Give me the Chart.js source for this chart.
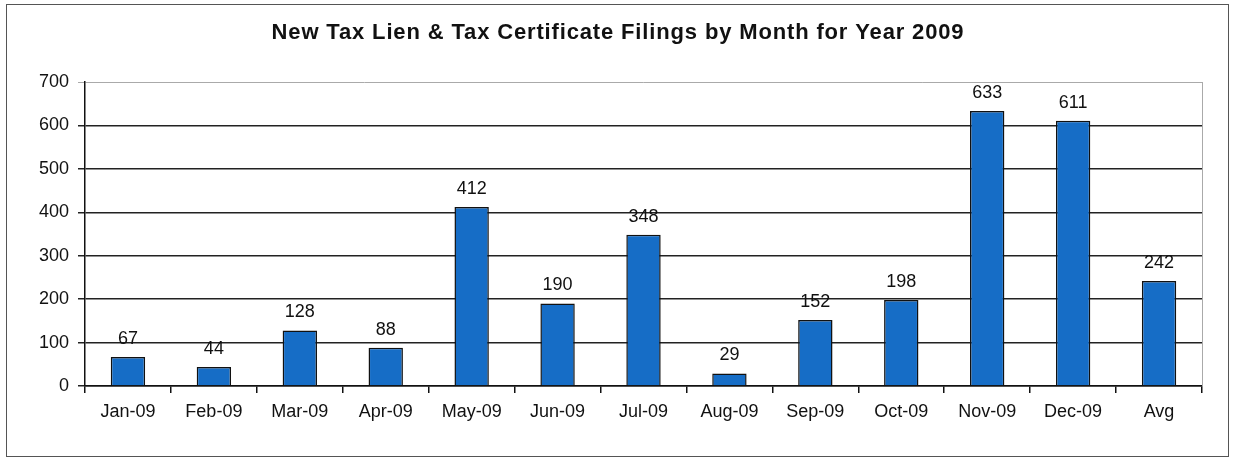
<!DOCTYPE html>
<html>
<head>
<meta charset="utf-8">
<script src="https://cdn.jsdelivr.net/npm/chart.js@4.4.1/dist/chart.umd.min.js"></script>
<style>
  html, body { margin: 0; padding: 0; background: #fff; }
  #frame {
    position: absolute; left: 6px; top: 4px;
    width: 1223px; height: 453px;
    border: 1.5px solid #555;
    box-sizing: border-box;
  }
  #filings { display: block; }
</style>
</head>
<body>
<div id="frame"><canvas id="filings" width="1220" height="450"></canvas></div>
<script>
const months = ['Jan-09', 'Feb-09', 'Mar-09', 'Apr-09', 'May-09', 'Jun-09',
                'Jul-09', 'Aug-09', 'Sep-09', 'Oct-09', 'Nov-09', 'Dec-09', 'Avg'];
const filings = [67, 44, 128, 88, 412, 190, 348, 29, 152, 198, 633, 611, 242];
const yTicks = [0, 100, 200, 300, 400, 500, 600, 700];
const titleText = 'New Tax Lien & Tax Certificate Filings by Month for Year 2009';

const FONT = 'Liberation Sans, Arial, sans-serif';

// spaced-out bold heading, drawn by hand so letterSpacing can be used
const heading = {
    id: 'heading',
    afterDraw(chart) {
        const ctx = chart.ctx;
        ctx.save();
        ctx.font = 'bold 22px ' + FONT;
        ctx.letterSpacing = '0.85px';
        ctx.fillStyle = '#111';
        ctx.textAlign = 'center';
        ctx.textBaseline = 'middle';
        ctx.fillText(titleText, chart.width / 2 + 1, 28);
        ctx.restore();
    }
};

// value labels above each bar
const barValues = {
    id: 'barValues',
    afterDatasetsDraw(chart) {
        const ctx = chart.ctx;
        const meta = chart.getDatasetMeta(0);
        ctx.save();
        ctx.font = '18px ' + FONT;
        ctx.fillStyle = '#111';
        ctx.textAlign = 'center';
        ctx.textBaseline = 'alphabetic';
        meta.data.forEach((bar, i) => {
            ctx.fillText(String(filings[i]), bar.x, bar.y - 13);
        });
        ctx.restore();
    }
};

// light right edge of the plot area
const plotEdge = {
    id: 'plotEdge',
    beforeDatasetsDraw(chart) {
        const { ctx, chartArea } = chart;
        ctx.save();
        ctx.strokeStyle = '#aaa';
        ctx.lineWidth = 1;
        ctx.beginPath();
        ctx.moveTo(chartArea.right + 0.5, chartArea.top);
        ctx.lineTo(chartArea.right + 0.5, chartArea.bottom);
        ctx.stroke();
        ctx.restore();
    }
};

new Chart(document.getElementById('filings').getContext('2d'), {
    type: 'bar',
    data: {
        labels: months,
        datasets: [{
            data: filings,
            backgroundColor: '#166dc6',
            borderColor: '#111',
            borderWidth: 1.5,
            categoryPercentage: 1,
            barPercentage: 0.4,
        }]
    },
    options: {
        responsive: false,
        animation: false,
        layout: { padding: { left: 17, right: 25, top: 77, bottom: 24 } },
        plugins: {
            legend: { display: false },
            tooltip: { enabled: false },
            title: { display: false }
        },
        scales: {
            x: {
                offset: true,
                grid: {
                    offset: true,
                    drawOnChartArea: false,
                    color: '#111',
                    lineWidth: 1.5,
                    tickLength: 7,
                },
                border: { color: '#111', width: 1.5 },
                ticks: {
                    color: '#111',
                    font: { family: FONT, size: 18 },
                    padding: 8,
                    maxRotation: 0,
                    autoSkip: false,
                },
                afterFit: (scale) => { scale.height = 45; }
            },
            y: {
                min: 0,
                max: 700,
                afterBuildTicks: (scale) => {
                    scale.ticks = yTicks.map(v => ({ value: v }));
                },
                grid: {
                    color: (c) => c.tick && c.tick.value === 700 ? '#aaa' : '#222',
                    lineWidth: (c) => c.tick && c.tick.value === 700 ? 1 : 1.5,
                    tickLength: 7,
                },
                border: { color: '#111', width: 1.5 },
                ticks: {
                    color: '#111',
                    font: { family: FONT, size: 18 },
                    padding: 9,
                },
                afterFit: (scale) => { scale.width = 61; }
            }
        }
    },
    plugins: [barValues, plotEdge, heading]
});
</script>
</body>
</html>
